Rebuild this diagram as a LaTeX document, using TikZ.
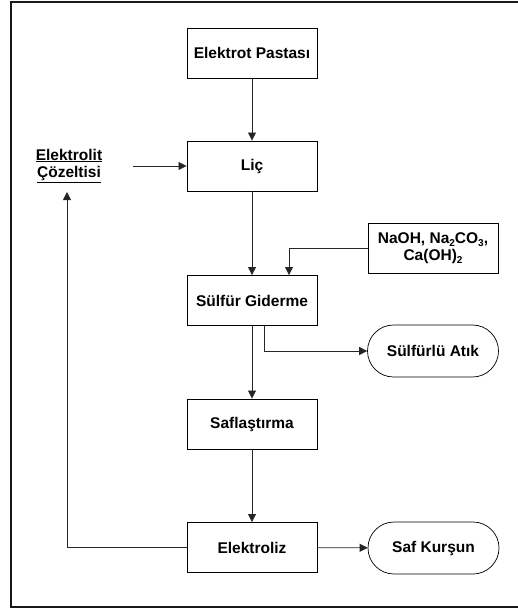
\documentclass[tikz,border=0pt]{standalone}
\usepackage{fontspec}
\setmainfont{Liberation Sans}
\usetikzlibrary{arrows.meta,shapes.misc}
\newcommand{\chemsub}[1]{\raisebox{-0.3ex}{\fontsize{10}{11}\selectfont #1}}
\begin{document}
\begin{tikzpicture}[x=1pt,y=-1pt,
  font=\fontsize{15.5}{18}\selectfont\bfseries,
  stepbox/.style={draw,line width=0.9pt,minimum width=130pt,minimum height=50pt,inner sep=0pt},
  endbox/.style={draw,line width=0.7pt,rounded rectangle,minimum width=131pt,minimum height=52pt,inner sep=0pt},
  flow/.style={line width=0.8pt,draw=black!85,-{Triangle[length=8pt,width=8pt]}}]
\useasboundingbox (0,0) rectangle (518,610);
% outer frame
\draw[line width=2pt,black!90] (11,2) rectangle (530,607);

% process steps
\node[stepbox] (paste) at (252,53) {Elektrot Pastası};
\node[stepbox] (lic)   at (252,166) {Liç};
\node[stepbox] (sulf)  at (252,300.5) {Sülfür Giderme};
\node[stepbox] (safl)  at (252,424) {Saflaştırma};
\node[stepbox] (elek)  at (252,547.5) {Elektroliz};

% reagents and products
\node[stepbox] (naoh) at (433,248.5) {\begin{tabular}{@{}c@{}}NaOH, Na\chemsub{2}CO\chemsub{3},\\[-1pt] Ca(OH)\chemsub{2}\end{tabular}};
\node[endbox] (atik) at (433,351) {Sülfürlü Atık};
\node[endbox] (pb)   at (433.5,548) {Saf Kurşun};

% electrolyte solution label
\node (sol) at (69,165) {\begin{tabular}{@{}c@{}}\underline{Elektrolit}\\[-1pt]\underline{Çözeltisi}\end{tabular}};

% connector end points
\coordinate (feed) at ([xshift=37pt]sulf.north);
\coordinate (waste) at ([xshift=12pt]sulf.south);
\coordinate (solin) at (133,166);
\coordinate (recyc) at (67,192);

% main flow
\draw[flow] (paste) -- (lic);
\draw[flow] (lic) -- (sulf);
\draw[flow] (sulf) -- (safl);
\draw[flow] (safl) -- (elek);
\draw[flow] (elek) -- (pb);
\draw[flow] (solin) -- (lic);

% reagent feed
\draw[flow] (naoh.west) -| (feed);

% sulfide waste
\draw[flow] (waste) |- (atik.west);

% electrolyte recycle
\draw[flow] (elek.west) -| (recyc);
\end{tikzpicture}
\end{document}
